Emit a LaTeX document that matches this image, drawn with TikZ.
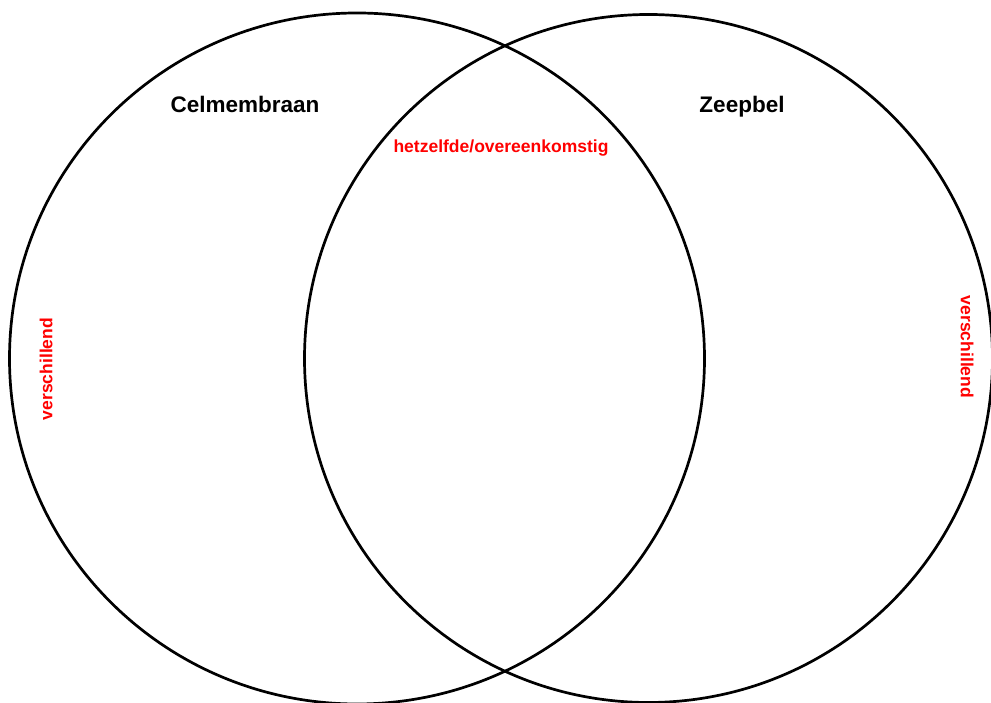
\documentclass[tikz,border=0pt]{standalone}
\usepackage{fontspec}
\setmainfont{Liberation Sans}
\begin{document}
\begin{tikzpicture}[x=1pt,y=1pt,
  ring/.style={draw=black, line width=2.7pt},
  title/.style={font=\fontsize{22.5}{26}\selectfont\bfseries, text=black, inner sep=0pt, anchor=base},
  note/.style={font=\fontsize{17.5}{20}\selectfont\bfseries, text=red, inner sep=0pt}]
\useasboundingbox (0,0) rectangle (991,703);
\fill[white] (0,0) rectangle (991,703);
\draw[ring] (357,344.5) circle [x radius=347.5pt, y radius=345.5pt];
\draw[ring] (648.5,344.5) circle [radius=344pt];
\node[title] (celm) at (245,590) {Celmembraan};
\node[title] (zeep) at (742,590) {Zeepbel};
\node[note] (same) at (501,555) {hetzelfde/overeenkomstig};
\node[note, rotate=90] (diffL) at (46,334) {verschillend};
\node[note, rotate=-90] (diffR) at (967,356) {verschillend};
\end{tikzpicture}
\end{document}
